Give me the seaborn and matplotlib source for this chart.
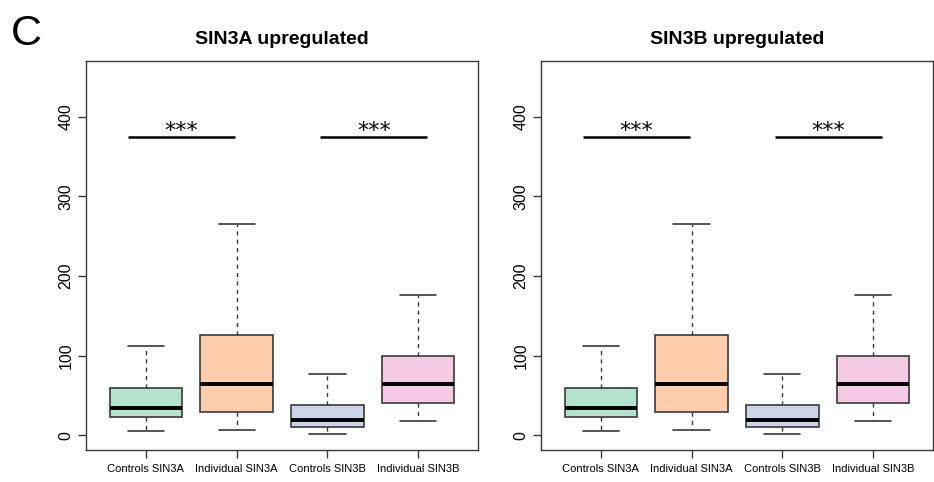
import matplotlib
matplotlib.use("Agg")
import matplotlib.pyplot as plt
import seaborn as sb
import numpy as np
import pandas as pd

groups = ["Controls SIN3A", "Individual SIN3A", "Controls SIN3B", "Individual SIN3B"]
colors = ["#b3e2cd", "#fdcdac", "#cbd5e8", "#f4cae4"]

# five-number summaries (low whisker, Q1, median, Q3, high whisker)
sin3a_summary = {
	"Controls SIN3A": [5.8, 22.6, 34.7, 59.4, 112],
	"Individual SIN3A": [6.7, 28.9, 64, 125.6, 265],
	"Controls SIN3B": [1.6, 10, 19.6, 37.7, 76.6],
	"Individual SIN3B": [18, 40.6, 64, 99.6, 176.6],
}
sin3b_summary = {
	"Controls SIN3A": [5.8, 22.6, 34.7, 59.4, 112],
	"Individual SIN3A": [6.7, 28.9, 64, 125.6, 265],
	"Controls SIN3B": [1.6, 10, 19.6, 37.7, 76.6],
	"Individual SIN3B": [18, 40.6, 64, 99.6, 176.6],
}
titles = ["SIN3A upregulated", "SIN3B upregulated"]
sig_y = 374
sig_pairs = [(-0.2, 0.98), (1.92, 3.1)]

def toFrame(summary):
	rows = []
	for g in groups:
		for v in summary[g]:
			rows.append((g, v))
	return pd.DataFrame(rows, columns=["group", "value"])

sb.set_style("white")
plt.rcParams['font.family'] = ['Liberation Sans', 'DejaVu Sans']
plt.rcParams['text.color'] = 'black'
plt.rcParams['xtick.color'] = 'black'
plt.rcParams['ytick.color'] = 'black'

fig = plt.figure(figsize=(9.34, 4.82), dpi=100)
axes = [fig.add_axes([0.0921, 0.0664, 0.4197, 0.807]),
	fig.add_axes([0.5792, 0.0664, 0.4197, 0.807])]

edge = "#3a3a3a"
for ax, summary, title in zip(axes, [sin3a_summary, sin3b_summary], titles):
	df = toFrame(summary)
	sb.boxplot(data=df, x="group", y="value", hue="group", palette=colors, order=groups,
		hue_order=groups, legend=False, width=0.8, whis=np.inf, saturation=1, ax=ax,
		linecolor=edge,
		boxprops=dict(linewidth=1.2, edgecolor=edge),
		medianprops=dict(color="black", linewidth=2.8),
		whiskerprops=dict(color=edge, linestyle=(0, (3, 3)), linewidth=1),
		capprops=dict(color=edge, linewidth=1.2))
	for x0, x1 in sig_pairs:
		ax.plot([x0, x1], [sig_y, sig_y], color="black", lw=1.8, solid_capstyle="butt")
		ax.text((x0 + x1) / 2, sig_y + 1, "***", ha="center", va="baseline",
			fontsize=16, family="DejaVu Sans")
	ax.set_xlim(-0.66, 3.66)
	ax.set_ylim(-18.5, 470)
	ax.set_yticks([0, 100, 200, 300, 400])
	ax.set_yticklabels(["0", "100", "200", "300", "400"], rotation=90, va="center", fontsize=11.5)
	ax.set_xticks(range(len(groups)))
	ax.set_xticklabels(groups, fontsize=8)
	ax.tick_params(axis="both", direction="out", length=6, width=1, color=edge,
		bottom=True, left=True, pad=3)
	ax.tick_params(axis="x", pad=4)
	for s in ax.spines.values():
		s.set_color(edge)
		s.set_linewidth(1)
		s.set_visible(True)
	ax.set_xlabel("")
	ax.set_ylabel("")
	ax.set_title(title, fontsize=14, fontweight="bold", pad=12)

fig.text(0.012, 0.93, "C", fontsize=31, ha="left", va="center")

fig.savefig("out.png", dpi=100)
